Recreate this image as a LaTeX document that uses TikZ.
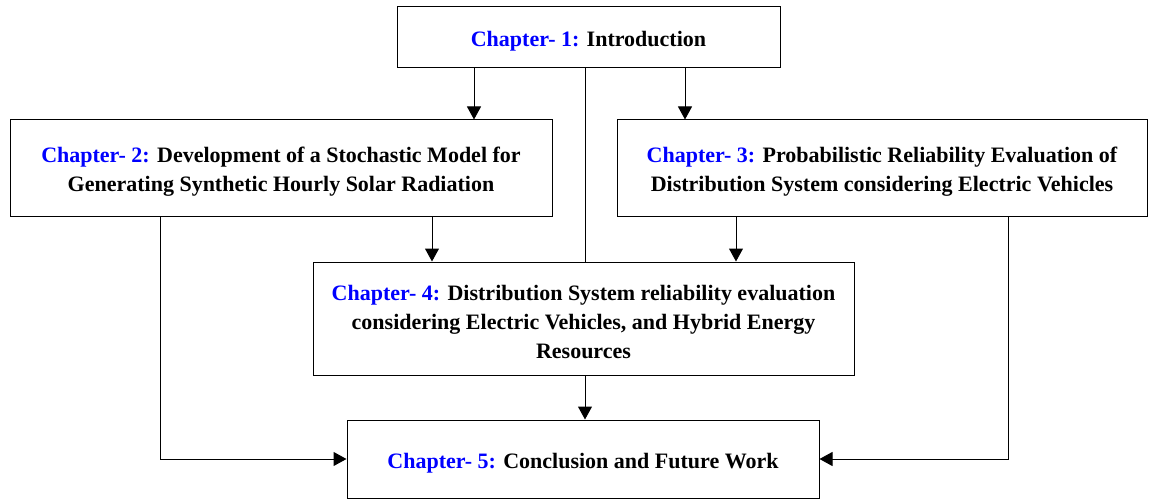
\documentclass[tikz,border=0pt]{standalone}
\usepackage{fontspec}
\setmainfont{Liberation Serif}
\usetikzlibrary{arrows.meta}
\tikzset{
  chap/.style={draw=black, line width=1pt, rectangle, inner sep=0pt, align=center,
    font=\fontsize{22}{29}\selectfont\bfseries},
  arr/.style={line width=1pt, -{Triangle[length=13pt,width=14pt]}},
  link/.style={line width=1pt}
}
% blue chapter prefix; the strut lowers the text block a little inside its box
\newcommand{\chlabel}[1]{\rule{0pt}{23pt}\textcolor{blue}{Chapter- #1:}}
\begin{document}
\begin{tikzpicture}[x=1pt,y=-1pt]
\useasboundingbox (0,0) rectangle (1157,500);
\node[chap, minimum width=383pt, minimum height=61pt] (b1) at (588.5,37.5)
  {\chlabel{1} Introduction};
\node[chap, minimum width=542pt, minimum height=96pt] (b2) at (281,168)
  {\chlabel{2} Development of a Stochastic Model for\\Generating Synthetic Hourly Solar Radiation};
\node[chap, minimum width=530pt, minimum height=96pt] (b3) at (882,168)
  {\chlabel{3} Probabilistic Reliability Evaluation of\\Distribution System considering Electric Vehicles};
\node[chap, minimum width=541pt, minimum height=113pt] (b4) at (583.5,318.5)
  {\chlabel{4} Distribution System reliability evaluation\\considering Electric Vehicles, and Hybrid Energy\\Resources};
\node[chap, minimum width=472pt, minimum height=78pt] (b5) at (583,459)
  {\chlabel{5} Conclusion and Future Work};
% connectors
\draw[arr] ([xshift=-114.5pt]b1.south) -- ([xshift=193pt]b2.north);
\draw[arr] ([xshift=96.5pt]b1.south) -- ([xshift=-197pt]b3.north);
\draw[link] ([xshift=-3.5pt]b1.south) -- ([xshift=1.5pt]b4.north);
\draw[arr] ([xshift=151pt]b2.south) -- ([xshift=-151.5pt]b4.north);
\draw[arr] ([xshift=-146pt]b3.south) -- ([xshift=152.5pt]b4.north);
\draw[arr] ([xshift=1.5pt]b4.south) -- ([xshift=2pt]b5.north);
\draw[arr] ([xshift=-121pt]b2.south) |- (b5.west);
\draw[arr] ([xshift=126pt]b3.south) |- (b5.east);
\end{tikzpicture}
\end{document}
